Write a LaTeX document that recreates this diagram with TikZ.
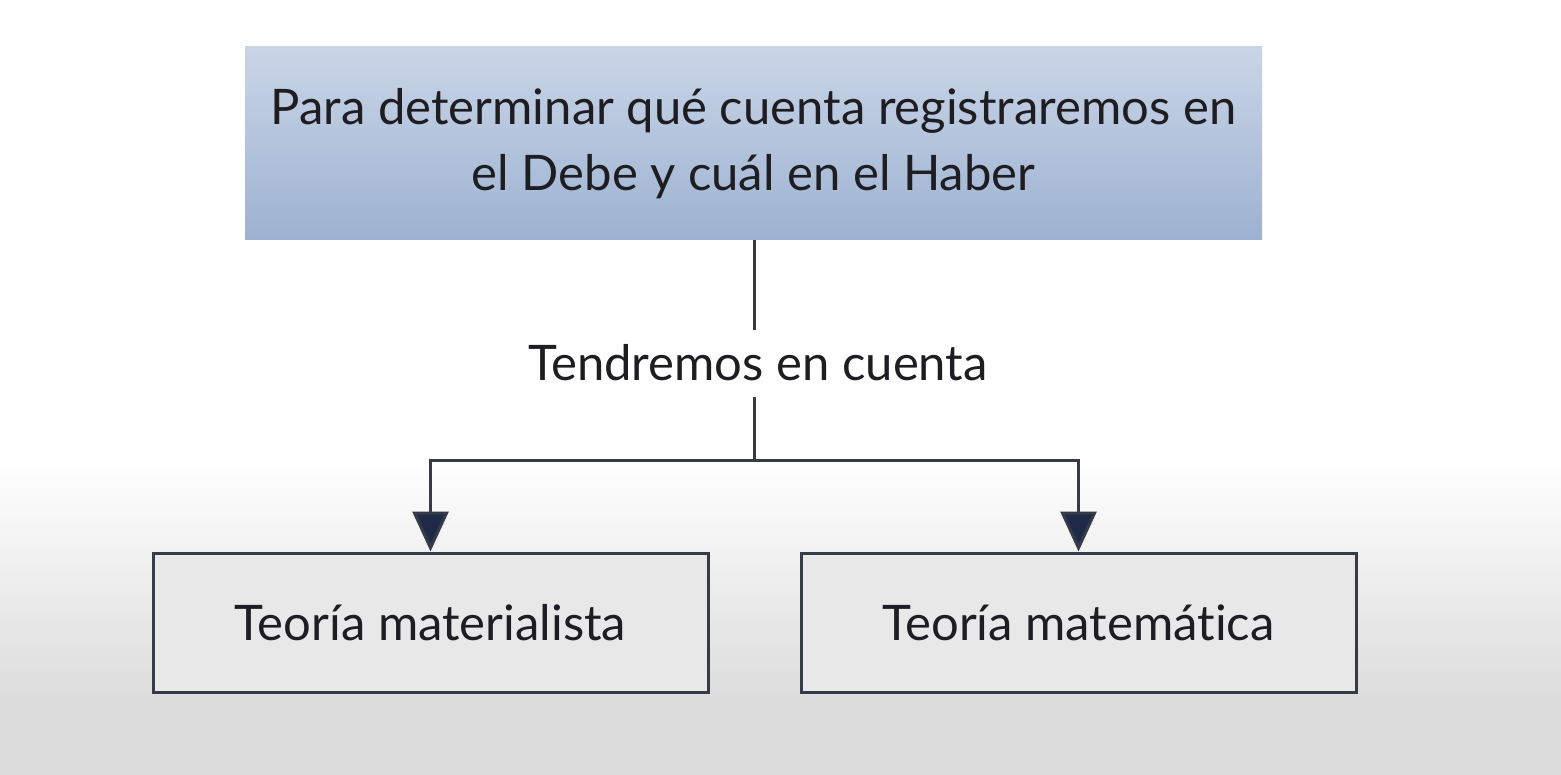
\documentclass[tikz,border=0pt]{standalone}
\usepackage{fontspec}
\setmainfont[Ligatures={NoCommon,NoRare}]{Lato}
\usetikzlibrary{arrows.meta,shadings}
\definecolor{linec}{HTML}{363B48}
\definecolor{arrowc}{HTML}{1F2A48}
\definecolor{textc}{HTML}{1E1E22}
\definecolor{boxtop}{HTML}{C9D5E7}
\definecolor{boxbot}{HTML}{9DB2D1}
\definecolor{bggray}{HTML}{DCDCDC}
\tikzset{
  conn/.style={draw=linec, line width=3pt},
  arr/.style={conn, -{Triangle[width=36pt,length=40pt,fill=arrowc]}},
  topbox/.style={minimum width=1017pt, minimum height=193pt, inner sep=0pt, top color=boxtop, bottom color=boxbot, align=center, text=textc, font=\fontsize{49pt}{66pt}\selectfont},
  leafbox/.style={draw=linec, line width=3pt, fill=black!9, minimum width=555pt, minimum height=139pt, inner sep=0pt, text=textc, font=\fontsize{49pt}{58pt}\selectfont},
  lbl/.style={text=textc, font=\fontsize{49pt}{58pt}\selectfont, inner sep=0pt}
}
\begin{document}
\begin{tikzpicture}[x=1pt,y=-1pt]
\useasboundingbox (0,0) rectangle (1561,775);
\fill[white] (0,0) rectangle (1561,460);
\shade[top color=white, bottom color=bggray] (0,459) rectangle (1561,700);
\fill[bggray] (0,699) rectangle (1561,775);
\node[topbox] (top) at (753.5,143.5) {Para determinar qué cuenta registraremos en\\el Debe y cuál en el Haber};
\node[lbl] (mid) at (758,363) {Tendremos en cuenta};
\node[leafbox] (left) at (430.5,622.5) {Teoría materialista};
\node[leafbox] (right) at (1078.5,622.5) {Teoría matemática};
\coordinate (split) at (754,460);
\draw[conn] (top.south -| split) -- (754,330);
\draw[conn] (754,397) -- (split);
\draw[arr] (split) -| (left.north);
\draw[arr] (split) -| (right.north);
\end{tikzpicture}
\end{document}
